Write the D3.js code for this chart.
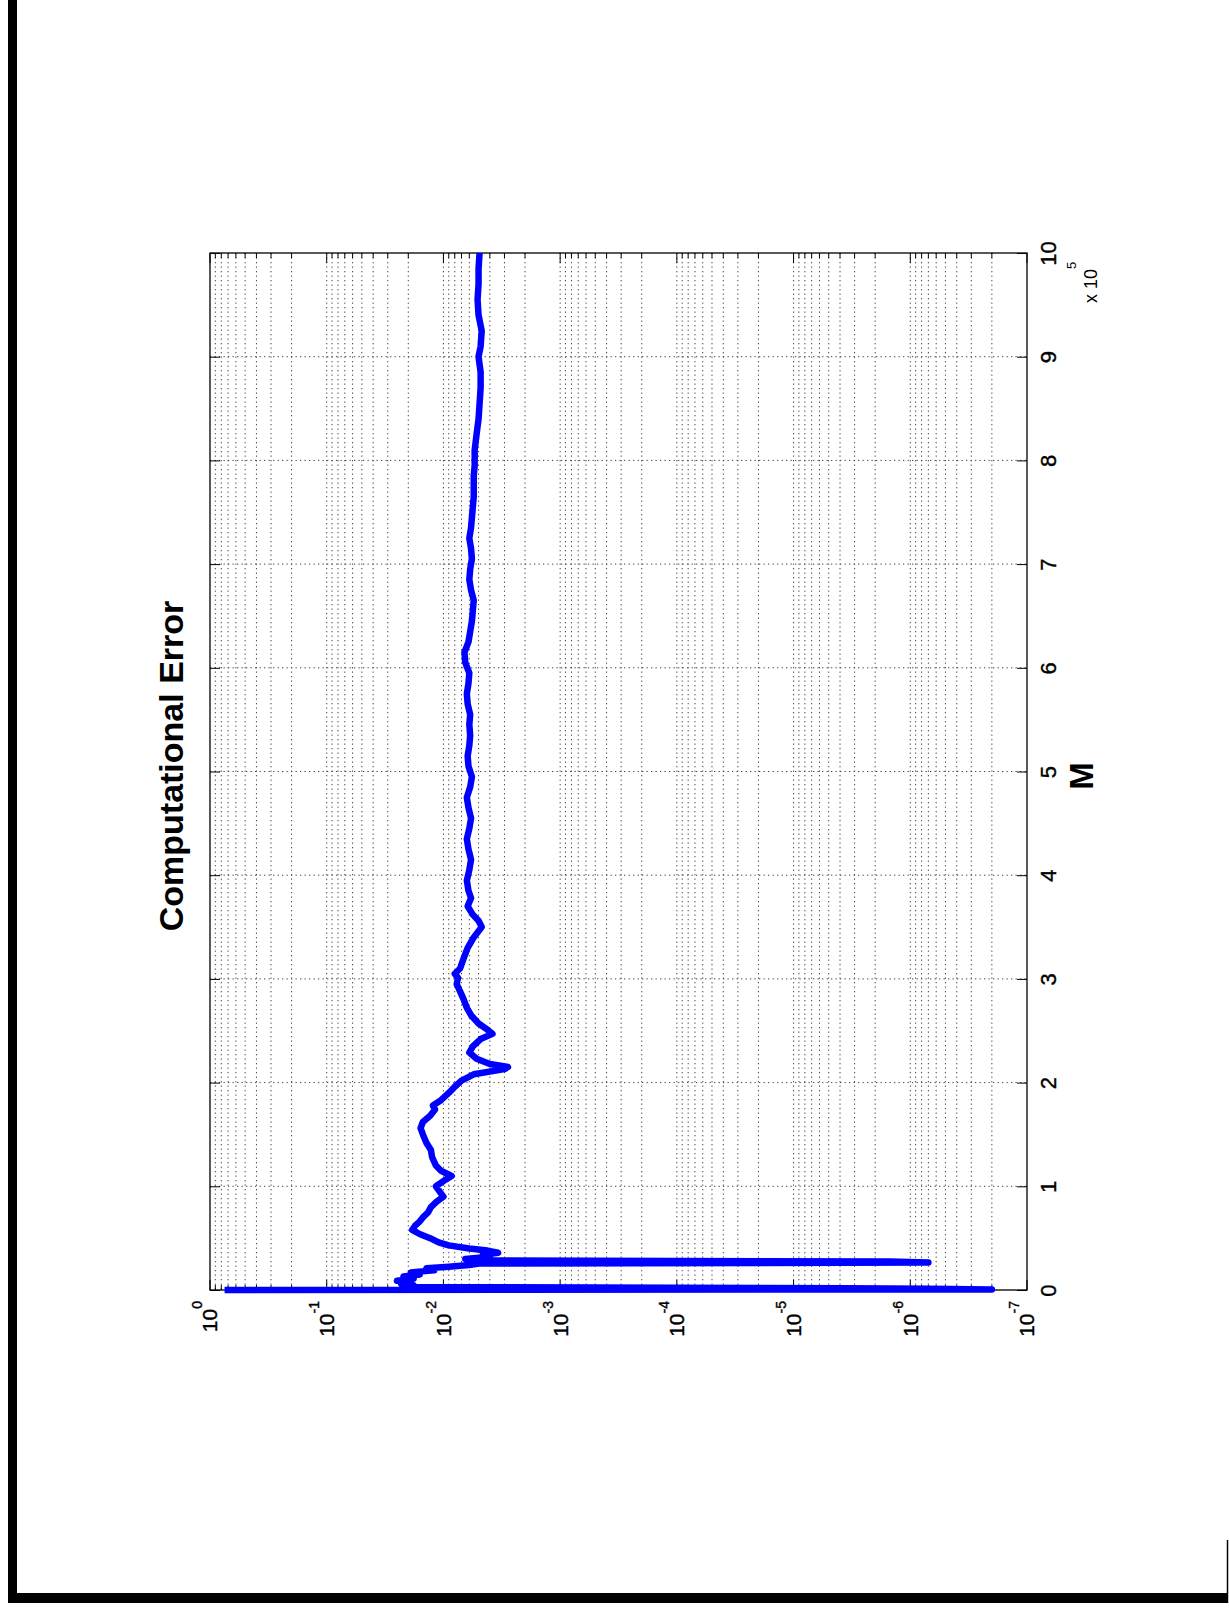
<!DOCTYPE html>
<html>
<head>
<meta charset="utf-8">
<script src="https://cdn.jsdelivr.net/npm/d3@7"></script>
<style>
    body { margin: 0; background: #fff; }
    text { font-family: "Liberation Sans", Arial, sans-serif; fill: #000; }
</style>
</head>
<body>
<script>
// M values (in units of 10^5) and the computational error
const mValues = [
    0.000, 0.006, 0.012, 0.018, 0.030, 0.045, 0.060, 0.075, 0.090, 0.110,
    0.130, 0.150, 0.170, 0.190, 0.210, 0.225, 0.240, 0.255, 0.265, 0.275,
    0.285, 0.300, 0.320, 0.340, 0.360, 0.380, 0.400, 0.430, 0.460, 0.500,
    0.540, 0.580, 0.620, 0.660, 0.700, 0.750, 0.800, 0.850, 0.900, 0.950,
    1.000, 1.050, 1.100, 1.150, 1.200, 1.280, 1.350, 1.420, 1.500, 1.560,
    1.620, 1.680, 1.740, 1.780, 1.830, 1.900, 1.960, 2.020, 2.080, 2.130,
    2.150, 2.180, 2.230, 2.290, 2.350, 2.420, 2.470, 2.510, 2.570, 2.650,
    2.720, 2.800, 2.880, 2.950, 3.010, 3.050, 3.100, 3.200, 3.300, 3.400,
    3.500, 3.560, 3.620, 3.700, 3.780, 3.850, 3.950, 4.050, 4.150, 4.250,
    4.350, 4.450, 4.550, 4.650, 4.750, 4.850, 4.950, 5.050, 5.150, 5.250,
    5.350, 5.450, 5.550, 5.650, 5.750, 5.850, 5.950, 6.050, 6.150, 6.250,
    6.350, 6.450, 6.550, 6.650, 6.750, 6.850, 6.950, 7.050, 7.150, 7.250,
    7.350, 7.450, 7.550, 7.650, 7.750, 7.850, 7.950, 8.100, 8.250, 8.400,
    8.550, 8.700, 8.850, 9.000, 9.100, 9.250, 9.400, 9.550, 9.700, 9.850,
    10.00
];
const errValues = [
    0.75, 2.0e-7, 7.0e-7, 3.5e-6, 0.021, 0.018, 0.023, 0.019, 0.025, 0.018,
    0.022, 0.016, 0.019, 0.012, 0.014, 0.009, 0.006, 0.005, 7.0e-7, 1.5e-6,
    0.0045, 0.0065, 0.0040, 0.0046, 0.0034, 0.0042, 0.0060, 0.0090, 0.0110, 0.0130,
    0.0160, 0.0185, 0.0175, 0.0160, 0.0150, 0.0135, 0.0128, 0.0115, 0.0100, 0.0108,
    0.0116, 0.0100, 0.0085, 0.0105, 0.0116, 0.0125, 0.0128, 0.0140, 0.0150, 0.0157,
    0.0150, 0.0130, 0.0118, 0.0123, 0.0105, 0.0090, 0.0080, 0.0070, 0.0055, 0.0030,
    0.0028, 0.0040, 0.0052, 0.0060, 0.0056, 0.0048, 0.0038, 0.0042, 0.0050, 0.0058,
    0.0063, 0.0067, 0.0072, 0.0077, 0.0075, 0.0080, 0.0072, 0.0067, 0.0062, 0.0055,
    0.0047, 0.0050, 0.0056, 0.0062, 0.0058, 0.0061, 0.0063, 0.0060, 0.0058, 0.0061,
    0.0063, 0.0060, 0.0058, 0.0061, 0.0063, 0.0059, 0.0057, 0.0061, 0.0062, 0.0060,
    0.0059, 0.0060, 0.0059, 0.0062, 0.0063, 0.0061, 0.0060, 0.0065, 0.0066, 0.0061,
    0.0059, 0.0057, 0.0056, 0.0055, 0.0058, 0.0060, 0.0059, 0.0057, 0.0058, 0.0060,
    0.0058, 0.0057, 0.0056, 0.0055, 0.0055, 0.0055, 0.0054, 0.0054, 0.0052, 0.0050,
    0.0049, 0.0048, 0.0048, 0.0050, 0.0048, 0.0047, 0.0050, 0.0051, 0.0050, 0.0050,
    0.0049
];

// tick labels
const mTicks = [0, 1, 2, 3, 4, 5, 6, 7, 8, 9, 10];
const errExponents = [0, -1, -2, -3, -4, -5, -6, -7];

const pageWidth = 1229;
const pageHeight = 1609;

// The figure is printed sideways: M runs up the page, the error runs right-to-left.
// Screen box of the axes: x 210..1027, y 253..1290
const boxLeft = 210, boxRight = 1027, boxTop = 253, boxBottom = 1290;

const svg = d3.select("body").append("svg")
    .attr("width", pageWidth)
    .attr("height", pageHeight);

// page border (scanned page edge)
svg.append("rect").attr("x", 8).attr("y", 0).attr("width", 9).attr("height", 1603).attr("fill", "#000");
svg.append("rect").attr("x", 8).attr("y", 1593).attr("width", 1220).attr("height", 10).attr("fill", "#000");
svg.append("line").attr("x1", 1227.5).attr("x2", 1227.5).attr("y1", 1540).attr("y2", 1603)
    .attr("stroke", "#000").attr("stroke-width", 1.5);

// M -> screen y, error -> screen x
const mScale = d3.scaleLinear().domain([0, 10]).range([boxBottom, boxTop]);
const errScale = d3.scaleLog().domain([1e-7, 1]).range([boxRight, boxLeft]);

// minor + major log positions
const logTicks = [];
for (let e = -7; e < 0; e++) {
    for (let k = 1; k <= 9; k++) logTicks.push(k * Math.pow(10, e));
}
logTicks.push(1);
const isMajor = d => Math.abs(Math.log10(d) - Math.round(Math.log10(d))) < 1e-9;

// dotted grid
const grid = svg.append("g")
    .attr("stroke", "#444").attr("stroke-width", 1)
    .attr("stroke-dasharray", "1.3,3.2");

grid.selectAll("line.err")
    .data(logTicks.filter(d => d < 0.99 && d > 1.01e-7))
    .enter().append("line")
    .attr("class", "err")
    .attr("x1", d => errScale(d)).attr("x2", d => errScale(d))
    .attr("y1", boxTop).attr("y2", boxBottom);

grid.selectAll("line.m")
    .data(mTicks.slice(1, -1))
    .enter().append("line")
    .attr("class", "m")
    .attr("x1", boxLeft).attr("x2", boxRight)
    .attr("y1", d => mScale(d)).attr("y2", d => mScale(d));

// M axis on the right, ticks pointing inward, labels turned sideways
const mAxis = d3.axisRight(mScale).tickValues(mTicks).tickSize(-10).tickFormat(d3.format("d"));
const mAxisG = svg.append("g").attr("transform", "translate(" + boxRight + ",0)").call(mAxis);
mAxisG.selectAll("text")
    .attr("x", 0)
    .attr("dy", "0.71em")
    .attr("text-anchor", "middle")
    .attr("transform", "translate(13,0) rotate(-90)")
    .style("font-size", "22px")
    .attr("stroke", "#000").attr("stroke-width", 0.4);

svg.append("g").attr("transform", "translate(" + boxLeft + ",0)")
    .call(d3.axisLeft(mScale).tickValues(mTicks).tickSize(-10).tickFormat(""));

// error axis ticks along bottom and top
svg.append("g").selectAll("line")
    .data(logTicks)
    .enter().append("line")
    .attr("x1", d => errScale(d)).attr("x2", d => errScale(d))
    .attr("y1", boxBottom).attr("y2", d => boxBottom - (isMajor(d) ? 10 : 5))
    .attr("stroke", "#000");
svg.append("g").selectAll("line")
    .data(logTicks)
    .enter().append("line")
    .attr("x1", d => errScale(d)).attr("x2", d => errScale(d))
    .attr("y1", boxTop).attr("y2", d => boxTop + (isMajor(d) ? 10 : 5))
    .attr("stroke", "#000");

svg.selectAll(".domain").remove();

// axes box
svg.append("rect")
    .attr("x", boxLeft).attr("y", boxTop)
    .attr("width", boxRight - boxLeft).attr("height", boxBottom - boxTop)
    .attr("fill", "none").attr("stroke", "#000").attr("stroke-width", 1.3);

// log tick labels 10^e, turned sideways under the bottom edge
const errLabels = svg.append("g").selectAll("text")
    .data(errExponents)
    .enter().append("text")
    .attr("transform", d => "translate(" + errScale(Math.pow(10, d)) + "," + (boxBottom + 11) + ") rotate(-90)")
    .attr("dy", "0.35em")
    .attr("text-anchor", "end")
    .attr("stroke", "#000").attr("stroke-width", 0.4)
    .style("font-size", "21px");
errLabels.append("tspan").text("10");
errLabels.append("tspan").attr("dy", -15).style("font-size", "14px").text(d => String(d));

// x 10^5 multiplier
const mult = svg.append("text")
    .attr("transform", "translate(" + (boxRight + 70) + "," + (boxBottom - 987) + ") rotate(-90)")
    .style("font-size", "18px");
mult.append("tspan").text("x 10");
mult.append("tspan").attr("dy", -21).style("font-size", "13px").text("5");

// the error curve
const points = mValues.map((m, i) => ({ m: m, err: errValues[i] }));
const errLine = d3.line()
    .x(d => errScale(d.err))
    .y(d => mScale(d.m));

svg.append("path")
    .attr("d", errLine(points))
    .attr("fill", "none")
    .attr("stroke", "#0000ff")
    .attr("stroke-width", 6.5)
    .attr("stroke-linejoin", "round")
    .attr("stroke-linecap", "butt");

// axis label and title
svg.append("text")
    .attr("transform", "translate(" + (boxRight + 66) + "," + (boxBottom - 514) + ") rotate(-90)")
    .attr("text-anchor", "middle")
    .style("font-size", "33px")
    .style("font-weight", "bold")
    .text("M");

svg.append("text")
    .attr("transform", "translate(" + (boxLeft - 27) + "," + (boxBottom - 524) + ") rotate(-90)")
    .attr("text-anchor", "middle")
    .style("font-size", "34px")
    .style("font-weight", "bold")
    .text("Computational Error");
</script>
</body>
</html>
